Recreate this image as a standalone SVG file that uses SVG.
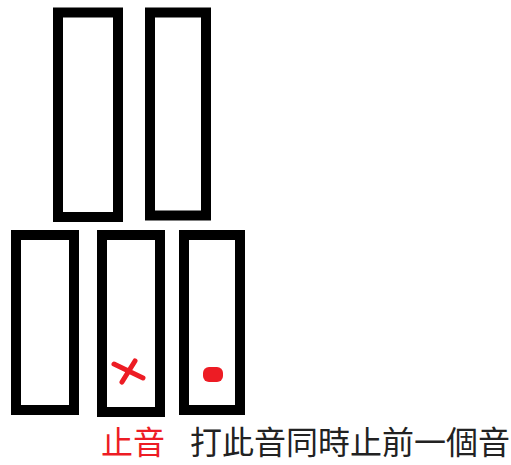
<svg xmlns="http://www.w3.org/2000/svg" width="511" height="465" viewBox="0 0 511 465">
<style>
.key{fill:#fff;stroke:#000;stroke-width:10}
.mark{stroke:#ED1C24;stroke-width:5;stroke-linecap:round;fill:none}
.t{font-family:"Liberation Sans","Noto Sans CJK TC",sans-serif;font-size:32px}
</style>
<rect width="511" height="465" fill="#fff"/>
<g id="top1"><rect class="key" x="58" y="12.5" width="60" height="204.5"/></g>
<g id="top2"><rect class="key" x="150" y="12.5" width="56" height="203"/></g>
<g id="bottom1"><rect class="key" x="16" y="235" width="58" height="175"/></g>
<g id="bottom2"><rect class="key" x="102" y="235" width="58" height="177"/>
<path class="mark" d="M114 364 L143 378 M135 361 L122 382"/></g>
<g id="bottom3"><rect class="key" x="184" y="235" width="56" height="175"/>
<rect x="203" y="367" width="20" height="15" rx="6" fill="#ED1C24"/></g>
<g id="labels">
<text class="t" x="101" y="454" fill="#ED1C24">止音</text>
<text class="t" x="190" y="454" fill="#222">打此音同時止前一個音</text>
</g>
</svg>
